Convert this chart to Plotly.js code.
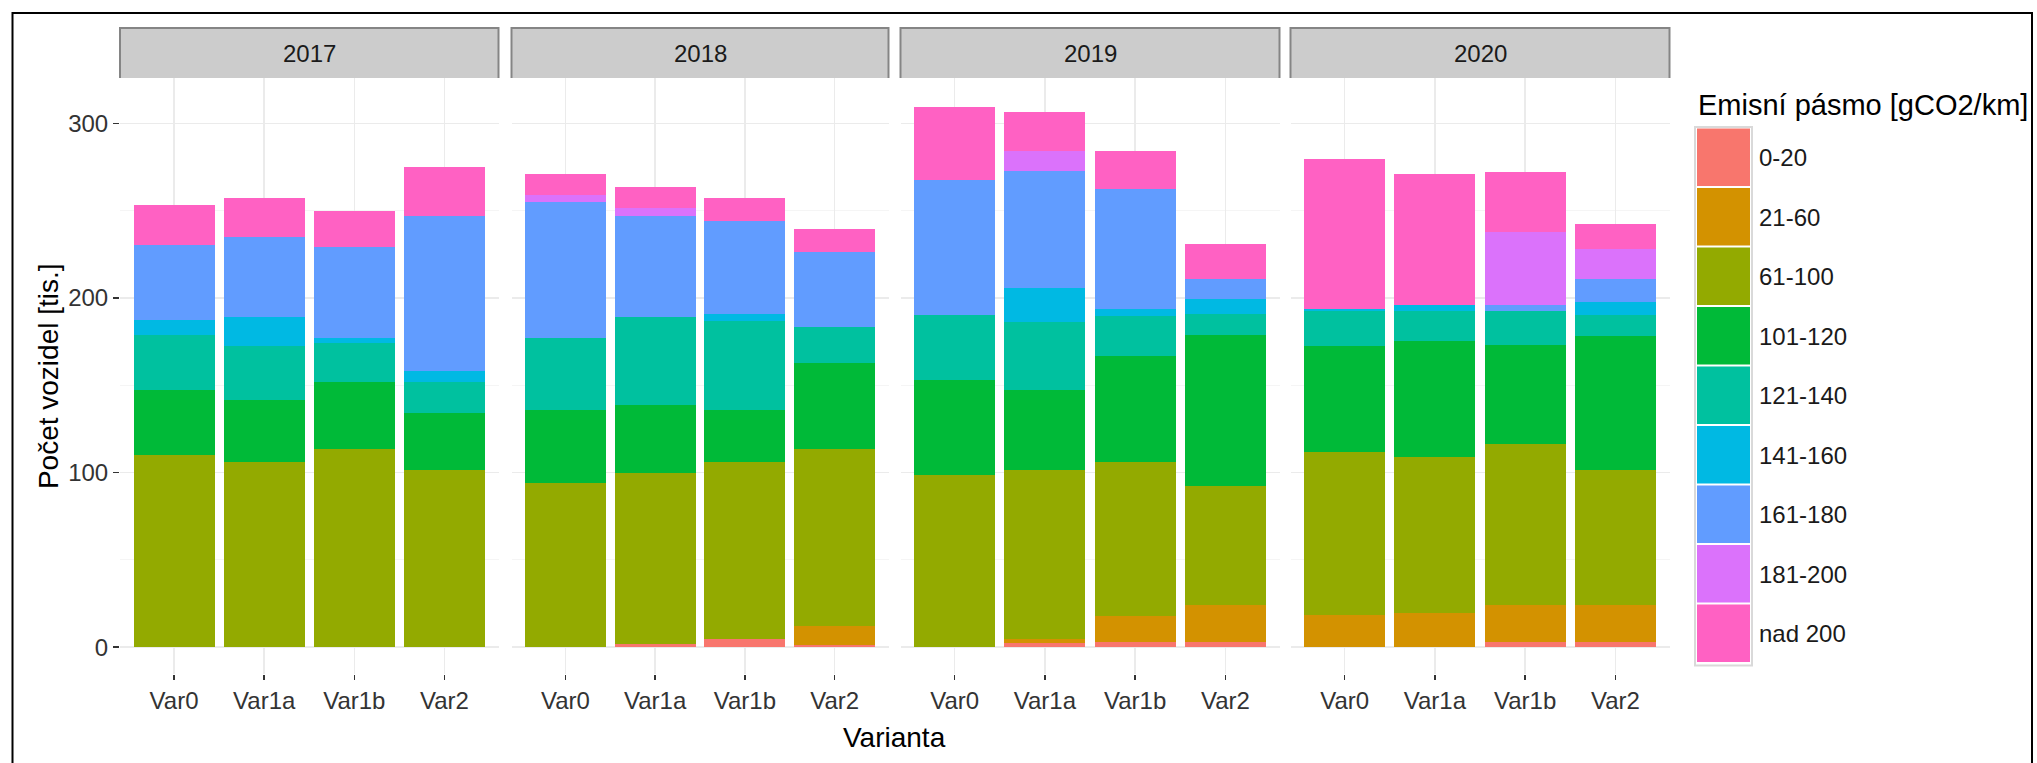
<!DOCTYPE html>
<html>
<head>
<meta charset="utf-8">
<script src="https://cdn.plot.ly/plotly-3.0.1.min.js"></script>
<style>html,body{margin:0;padding:0;background:#fff;}#chart{width:2037px;height:763px;}</style>
</head>
<body>
<div id="chart"></div>
<script>
// ---- data ----
const years = ["2017", "2018", "2019", "2020"];
const variants = ["Var0", "Var1a", "Var1b", "Var2"];
const bands = ["0-20", "21-60", "61-100", "101-120", "121-140", "141-160", "161-180", "181-200", "nad 200"];
const bandColors = ["#F8766D", "#D39200", "#93AA00", "#00BA38", "#00C19F", "#00B9E3", "#619CFF", "#DB72FB", "#FF61C3"];
// each array: 2017 Var0..Var2, 2018 Var0..Var2, 2019 Var0..Var2, 2020 Var0..Var2  [tis. vozidel]
const band_0_20    = [0, 0, 0, 0,        0, 1.7, 4.7, 1.1,      0, 2.2, 3.2, 3.2,      0, 0, 2.8, 2.8];
const band_21_60   = [0, 0, 0, 0,        0, 0, 0, 11.1,         0, 2.5, 14.9, 21.0,    18.3, 19.7, 21.1, 21.1];
const band_61_100  = [110.3, 106.1, 113.3, 101.4,  93.9, 98.3, 101.4, 101.1,  98.6, 96.7, 88.0, 68.3,  93.4, 89.2, 92.5, 77.5];
const band_101_120 = [37.2, 35.6, 38.6, 32.5,      41.7, 38.9, 29.5, 49.2,    54.7, 46.1, 60.8, 86.4,  60.8, 66.7, 56.4, 76.7];
const band_121_140 = [31.4, 30.8, 22.5, 18.0,      41.3, 50.3, 51.1, 20.8,    36.7, 38.9, 22.5, 11.7,  20.3, 17.2, 20.0, 12.0];
const band_141_160 = [8.6, 16.7, 2.8, 6.2,         0, 0, 3.9, 0,              0, 19.2, 4.2, 9.1,       0.8, 3.4, 0, 7.5];
const band_161_180 = [43.1, 45.8, 52.0, 89.1,      77.8, 58.0, 53.6, 43.1,    77.8, 66.9, 68.6, 11.4,  0, 0, 3.4, 13.4];
const band_181_200 = [0, 0, 0, 0,                  4.2, 4.2, 0, 0,            0, 11.7, 0, 0,           0, 0, 41.6, 16.8];
const band_nad_200 = [22.5, 22.2, 20.8, 28.1,      11.9, 12.2, 13.0, 13.3,    41.5, 22.2, 22.0, 19.7,  86.1, 74.6, 34.4, 14.7];
const bandValues = [band_0_20, band_21_60, band_61_100, band_101_120, band_121_140, band_141_160, band_161_180, band_181_200, band_nad_200];

const yTickVals = [0, 100, 200, 300];
const xTitle = "Varianta";
const yTitle = "Počet vozidel [tis.]";
const legendTitle = "Emisní pásmo [gCO2/km]";

// ---- layout helpers (pixel -> paper) ----
const W = 2037, H = 763;
const px = x => x / W;
const py = y => 1 - y / H;
const FONT = "Liberation Sans, Arial, sans-serif";
const panelX = [[120, 498.5], [511.5, 888.5], [900.5, 1279.5], [1290.5, 1669.5]];
const panelTop = 78, panelBottom = 674.2, stripTop = 28;
const yRange = [-15.5, 326];

const traces = [];
years.forEach((yr, yi) => {
  const sfx = yi === 0 ? "" : String(yi + 1);
  bands.forEach((b, bi) => {
    traces.push({
      type: "bar",
      name: b,
      x: variants,
      y: bandValues[bi].slice(yi * 4, yi * 4 + 4),
      xaxis: "x" + sfx,
      yaxis: "y" + sfx,
      marker: { color: bandColors[bi], line: { width: 0 } },
      showlegend: false,
      hovertemplate: yr + " %{x}<br>" + b + ": %{y}<extra></extra>"
    });
  });
});

const layout = {
  width: W, height: H,
  margin: { l: 0, r: 0, t: 0, b: 0, pad: 0, autoexpand: false },
  paper_bgcolor: "#fff", plot_bgcolor: "#fff",
  barmode: "stack", bargap: 0.1,
  font: { family: FONT, size: 24, color: "#333333" },
  showlegend: false,
  shapes: [], annotations: []
};

years.forEach((yr, yi) => {
  const sfx = yi === 0 ? "" : String(yi + 1);
  const [x0, x1] = panelX[yi];
  layout["xaxis" + sfx] = {
    domain: [px(x0), px(x1)],
    anchor: "y" + sfx,
    automargin: false,
    type: "category",
    categoryorder: "array", categoryarray: variants,
    range: [-0.6, 3.6],
    showgrid: true, gridcolor: "#EBEBEB", gridwidth: 1.5,
    zeroline: false, showline: false,
    ticks: "outside", ticklen: 5, tickwidth: 1.5, tickcolor: "#333333",
    tickfont: { family: FONT, size: 24, color: "#333333" },
    fixedrange: true
  };
  layout["yaxis" + sfx] = {
    domain: [py(panelBottom), py(panelTop)],
    anchor: "x" + sfx,
    automargin: false,
    range: yRange,
    tickvals: yTickVals,
    showgrid: true, gridcolor: "#EBEBEB", gridwidth: 1.5,
    minor: { tickvals: [50, 150, 250], showgrid: true, gridcolor: "#F5F5F5", gridwidth: 1, ticks: "" },
    zeroline: false, showline: false,
    ticks: yi === 0 ? "outside" : "", ticklen: 6, tickwidth: 1.5, tickcolor: "#333333",
    showticklabels: yi === 0,
    tickfont: { family: FONT, size: 24, color: "#333333" },
    fixedrange: true
  };
  // strip
  layout.shapes.push({ type: "rect", xref: "paper", yref: "paper", x0: px(x0), x1: px(x1), y0: py(panelTop), y1: py(stripTop),
    fillcolor: "#CCCCCC", line: { width: 0 }, layer: "above" });
  layout.shapes.push({ type: "path", xref: "paper", yref: "paper",
    path: `M ${px(x0)} ${py(panelTop)} L ${px(x0)} ${py(stripTop)} L ${px(x1)} ${py(stripTop)} L ${px(x1)} ${py(panelTop)}`,
    line: { color: "#858585", width: 2 }, layer: "above" });
  layout.annotations.push({ xref: "paper", yref: "paper", x: px((x0 + x1) / 2), y: py(54), text: yr, showarrow: false,
    xanchor: "center", yanchor: "middle", font: { family: FONT, size: 24, color: "#1A1A1A" } });
});

// axis titles
layout.annotations.push({ xref: "paper", yref: "paper", x: px((panelX[0][0] + panelX[3][1]) / 2), y: py(737), text: xTitle,
  showarrow: false, xanchor: "center", yanchor: "middle", font: { family: FONT, size: 28, color: "#000" } });
layout.annotations.push({ xref: "paper", yref: "paper", x: px(48), y: py((panelTop + panelBottom) / 2), text: yTitle,
  textangle: -90, showarrow: false, xanchor: "center", yanchor: "middle", font: { family: FONT, size: 28, color: "#000" } });

// legend (drawn manually to reproduce the large keys)
const legX0 = 1697, legX1 = 1750, legTop = 128, legPitch = 59.5;
layout.annotations.push({ xref: "paper", yref: "paper", x: px(1696), y: py(105), text: legendTitle, showarrow: false,
  xanchor: "left", yanchor: "middle", font: { family: FONT, size: 29, color: "#000" } });
layout.shapes.push({ type: "rect", xref: "paper", yref: "paper", x0: px(legX0 - 2), x1: px(legX1 + 2),
  y0: py(legTop + bands.length * legPitch + 2), y1: py(legTop - 1), fillcolor: "#fff", line: { color: "#D9D9D9", width: 2 } });
bands.forEach((b, bi) => {
  const t = legTop + bi * legPitch;
  layout.shapes.push({ type: "rect", xref: "paper", yref: "paper", x0: px(legX0), x1: px(legX1),
    y0: py(t + legPitch - 1.5), y1: py(t + 0.5), fillcolor: bandColors[bi], line: { width: 0 } });
  layout.annotations.push({ xref: "paper", yref: "paper", x: px(1757), y: py(t + legPitch / 2), text: b, showarrow: false,
    xanchor: "left", yanchor: "middle", font: { family: FONT, size: 24, color: "#1A1A1A" } });
});

// outer frame
layout.shapes.push({ type: "rect", xref: "paper", yref: "paper", x0: px(12.5), x1: px(2032), y0: -0.05, y1: py(13),
  line: { color: "#000", width: 2 }, fillcolor: "rgba(0,0,0,0)" });

Plotly.newPlot("chart", traces, layout, { displayModeBar: false, staticPlot: true });
</script>
</body>
</html>
